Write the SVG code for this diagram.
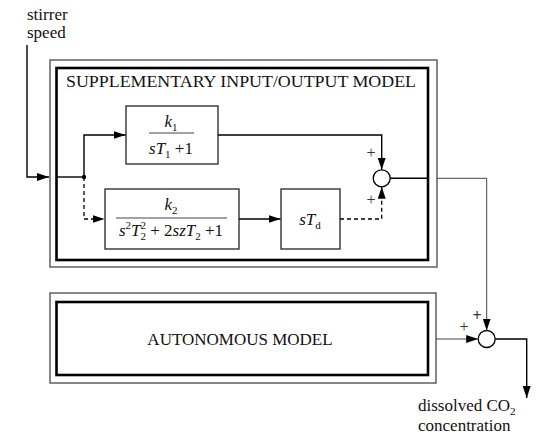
<svg xmlns="http://www.w3.org/2000/svg" width="550" height="445" viewBox="0 0 550 445" font-family="'Liberation Serif', 'Times New Roman', serif">
<style>
text{font-family:'Liberation Serif','Times New Roman',serif;fill:#111}
.lbl{font-size:17px}
.it{font-style:italic}
.sub{font-size:11px}
.outer{fill:none;stroke:#555;stroke-width:1.4}
.inner{fill:none;stroke:#000;stroke-width:2.6}
.blk{fill:#fff;stroke:#333;stroke-width:1.4}
.frac{stroke:#444;stroke-width:1.1}
.ln{fill:none;stroke:#000;stroke-width:1.4}
.thin{fill:none;stroke:#444;stroke-width:1}
.dash{fill:none;stroke:#000;stroke-width:1.3;stroke-dasharray:4 3}
.sum{fill:#fff;stroke:#000;stroke-width:1.3}
.pl{font-size:16px;fill:#333}
</style>
<defs>
<marker id="ah" viewBox="0 0 12 8" refX="12" refY="4" markerWidth="12" markerHeight="8" markerUnits="userSpaceOnUse" orient="auto">
<path d="M0,0 L12,4 L0,8 Z" fill="#000"/>
</marker>
</defs>

<g id="stirrer-label">
<text class="lbl" x="27" y="20" font-size="16.5">stirrer</text>
<text class="lbl" x="27" y="38" font-size="16.5">speed</text>
</g>

<g id="supplementary-model">
<rect class="outer" x="50" y="60" width="387" height="207"/>
<rect class="inner" x="56.5" y="68" width="371.5" height="192"/>
<text class="lbl" x="66" y="87" textLength="350" lengthAdjust="spacingAndGlyphs">SUPPLEMENTARY INPUT/OUTPUT MODEL</text>
</g>

<g id="block-k1">
<rect class="blk" x="126" y="106" width="92" height="58"/>
<text class="lbl" x="171" y="127" text-anchor="middle"><tspan class="it">k</tspan><tspan class="sub" dy="4">1</tspan></text>
<line class="frac" x1="149" y1="133" x2="194" y2="133"/>
<text class="lbl" x="171" y="154" text-anchor="middle"><tspan class="it">sT</tspan><tspan class="sub" dy="4">1</tspan><tspan dy="-4"> +1</tspan></text>
</g>

<g id="block-k2">
<rect class="blk" x="105" y="189" width="134" height="60"/>
<text class="lbl" x="171" y="210" text-anchor="middle"><tspan class="it">k</tspan><tspan class="sub" dy="4">2</tspan></text>
<line class="frac" x1="116" y1="218" x2="227" y2="218"/>
<text class="lbl" x="171" y="236" text-anchor="middle"><tspan class="it">s</tspan><tspan class="sub" dy="-7">2</tspan><tspan class="it" dy="7">T</tspan><tspan class="sub" dy="4">2</tspan><tspan class="sub" dx="-5.5" dy="-11">2</tspan><tspan dy="7"> + 2</tspan><tspan class="it">szT</tspan><tspan class="sub" dy="4">2</tspan><tspan dy="-4"> +1</tspan></text>
</g>

<g id="block-std">
<rect class="blk" x="281" y="189" width="59" height="60"/>
<text class="lbl" x="310" y="225" text-anchor="middle"><tspan class="it">sT</tspan><tspan class="sub" dy="4">d</tspan></text>
</g>

<g id="sum1">
<circle class="sum" cx="381.7" cy="178.3" r="8.5"/>
<text class="pl" x="371" y="158" text-anchor="middle">+</text>
<text class="pl" x="371" y="205" text-anchor="middle">+</text>
</g>

<g id="autonomous-model">
<rect class="outer" x="50" y="293" width="386" height="90"/>
<rect class="inner" x="56.5" y="302" width="371.5" height="73"/>
<text class="lbl" x="240" y="345" text-anchor="middle">AUTONOMOUS MODEL</text>
</g>

<g id="sum2">
<circle class="sum" cx="486.7" cy="339" r="8.5"/>
<text class="pl" x="477" y="321" text-anchor="middle" font-weight="bold">+</text>
<text class="pl" x="464" y="332" text-anchor="middle">+</text>
</g>

<g id="output-label">
<text class="lbl" x="418" y="411">dissolved CO<tspan class="sub" dy="4">2</tspan></text>
<text class="lbl" x="418" y="431">concentration</text>
</g>

<g id="connectors">
<polyline class="ln" points="27,45 27,177 49,177" marker-end="url(#ah)"/>
<line class="ln" x1="56" y1="177" x2="84" y2="177"/>
<circle cx="84" cy="177" r="2.2" fill="#000"/>
<polyline class="ln" points="84,177 84,135 125.5,135" marker-end="url(#ah)"/>
<polyline class="dash" points="84,177 84,219 104.5,219" marker-end="url(#ah)"/>
<line class="ln" x1="239" y1="219" x2="280.5" y2="219" marker-end="url(#ah)"/>
<polyline class="ln" points="218,135 381.7,135 381.7,169.8" marker-end="url(#ah)"/>
<polyline class="dash" points="340,219 381.7,219 381.7,186.8" marker-end="url(#ah)"/>
<line class="ln" x1="390.2" y1="178.3" x2="428" y2="178.3"/>
<polyline class="thin" points="437,178.3 486.7,178.3 486.7,330.5" marker-end="url(#ah)"/>
<line class="thin" x1="436" y1="339" x2="478.2" y2="339" marker-end="url(#ah)"/>
<polyline class="ln" points="495.2,339 526.7,339 526.7,398" marker-end="url(#ah)"/>
</g>
</svg>
